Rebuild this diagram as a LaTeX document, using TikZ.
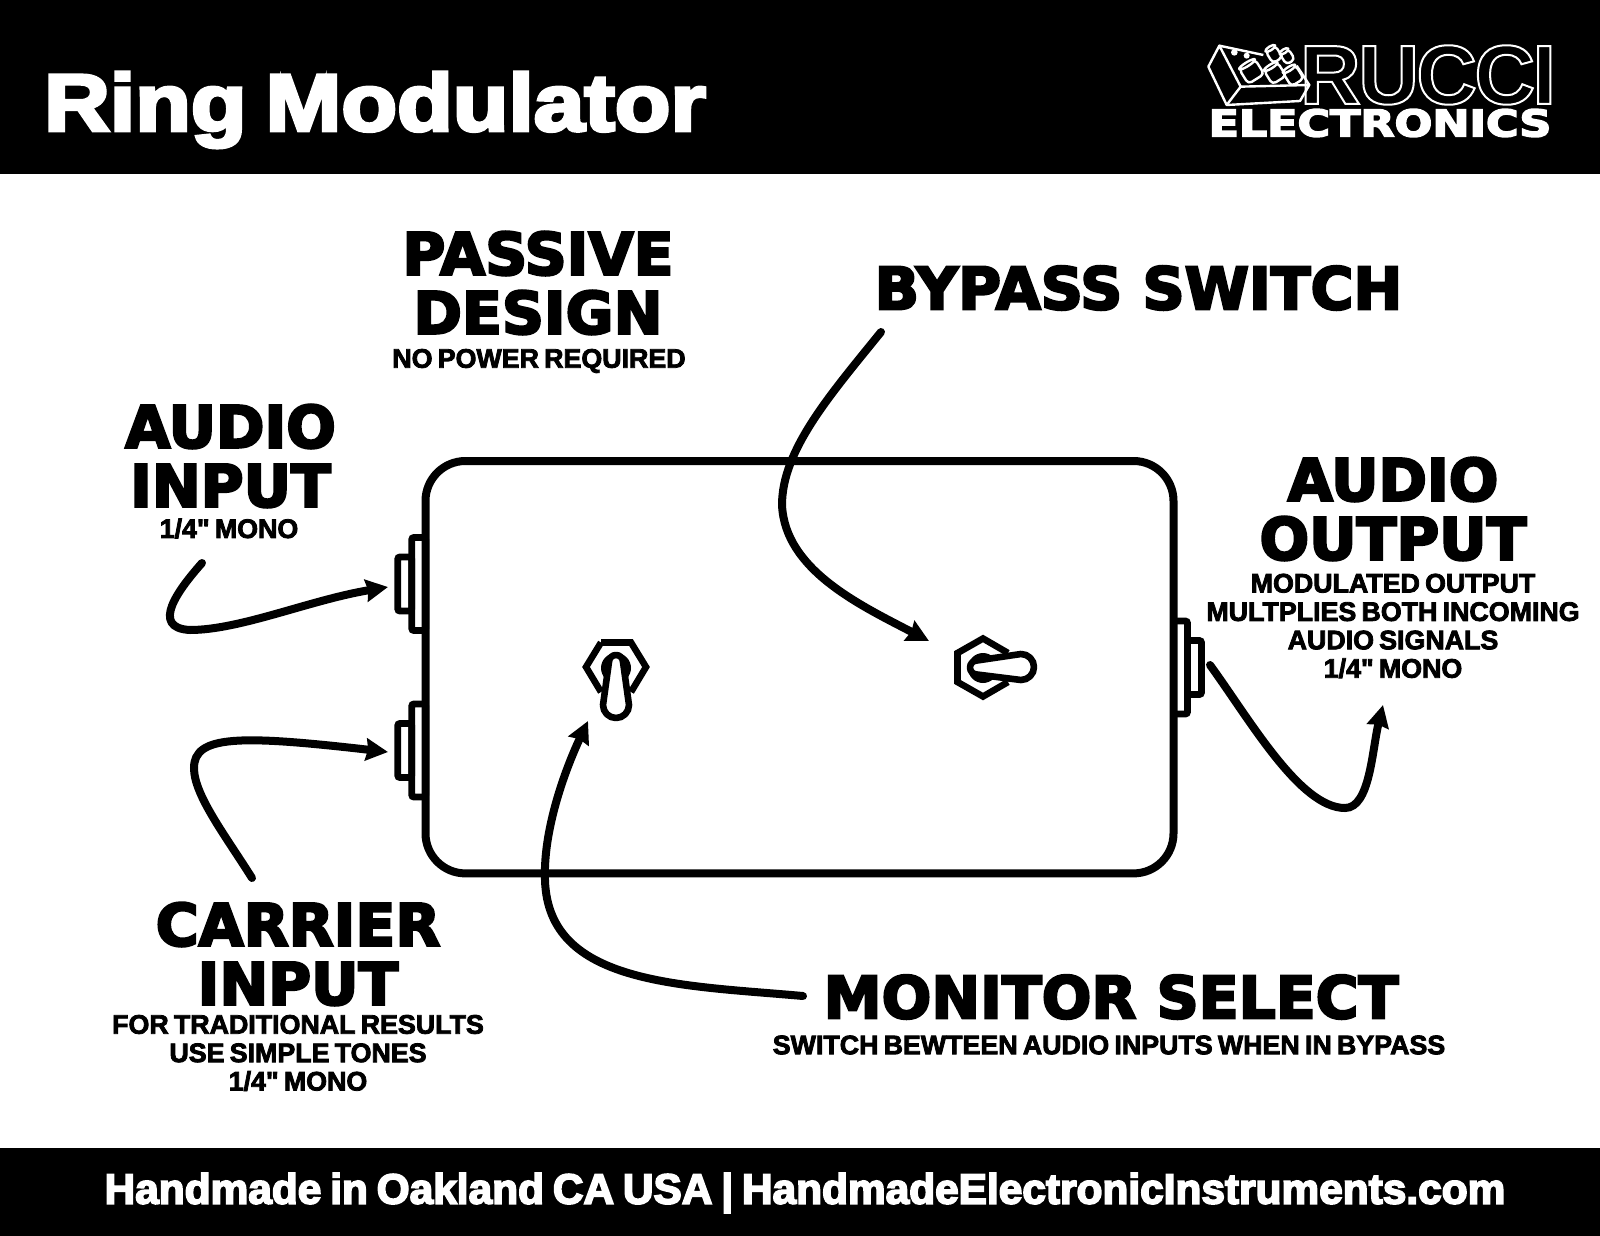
\documentclass[tikz,border=0pt]{standalone}
\usepackage{fontspec}
\usetikzlibrary{arrows.meta}
\newfontfamily\headfont[FakeBold=4,WordSpace=0.3]{DejaVu Sans Bold}
\newfontfamily\logoheadfont[FakeBold=4]{DejaVu Sans Bold}
\newfontfamily\subfont[FakeBold=3,WordSpace=0.7]{Liberation Sans Bold}
\newfontfamily\bannerfont[FakeBold=4,WordSpace=0.75]{Liberation Sans Bold}
\newfontfamily\logofont[LetterSpace=-3]{Liberation Sans Bold}
\newcommand{\outlinetext}[1]{\special{pdf:code q 1 Tr 1 w 1 1 1 RG}#1\special{pdf:code Q}}
\tikzset{
banner/.style={fill=black,draw=none},
heading/.style={align=center,inner sep=0pt,font=\headfont\fontsize{29.2}{29.5}\selectfont},
note/.style={align=center,inner sep=0pt,font=\subfont\fontsize{13.4}{14.2}\selectfont},
enclosure/.style={draw,line width=4pt,rounded corners=20pt,inner sep=0pt,outer sep=0pt,minimum width=374pt,minimum height=206.2pt},
jackflange/.style={draw,line width=3.3pt,rounded corners=1pt,inner sep=0pt,outer sep=0pt,minimum width=7pt,minimum height=46.5pt},
jackbody/.style={draw,line width=3.3pt,rounded corners=1pt,inner sep=0pt,outer sep=0pt,minimum width=7pt,minimum height=27pt},
hexnut/.style={line width=3.3pt,line join=miter},
lever/.style={draw=black,fill=white,line width=3.3pt,line join=round},
callout/.style={line width=4pt,line cap=round,-{Stealth[inset=1pt,length=11pt,width=11pt]}},
logoline/.style={draw=white,line width=1.2pt,line join=round}
}

\begin{document}
\begin{tikzpicture}[x=0.5pt,y=-0.5pt]
  \useasboundingbox (0,0) rectangle (1600,1236);
  \fill[banner] (0,0) rectangle (1600,174);
  \fill[banner] (0,1148) rectangle (1600,1236);
  \node[text=white,inner sep=0pt,font=\bannerfont\fontsize{40.5}{40.5}\selectfont] (title) at (375,110) {\scalebox{1.125}[1]{Ring Modulator}};
  \node[text=white,inner sep=0pt,font=\bannerfont\fontsize{21.2}{21.2}\selectfont] (footer) at (805,1193) {Handmade in Oakland CA USA | HandmadeElectronicInstruments.com};

  % logo
  \node[text=white,inner sep=0pt,font=\logofont\fontsize{42}{42}\selectfont] (rucci) at (1428,75) {\outlinetext{RUCCI}};
  \node[text=white,inner sep=0pt,font=\logoheadfont\fontsize{18.5}{18.5}\selectfont] (electronics) at (1380,123) {\scalebox{1.2}[1]{ELECTRONICS}};
  \begin{scope}[shift={(1200,35)},scale=0.3333]
    \draw[logoline] (58,32) -- (25,95) -- (80,210) -- (300,198) -- (328,150) -- (122,155) -- cycle;
    \draw[logoline] (122,155) -- (80,210);
    \draw[logoline] (58,32) -- (190,60);
    \draw[logoline] (290,92) -- (328,150);
    \fill[white] (103,52) circle (10);
    \fill[white] (140,62) circle (9);
    \foreach \cx/\cy/\halfw/\halfh in {155/110/28/26, 222/58/17/21, 262/65/15/19, 225/115/24/24, 280/122/22/24} {
      \begin{scope}[shift={(\cx,\cy)},rotate=32]
        \draw[logoline,fill=black,rounded corners=2pt] (-\halfw,-\halfh) rectangle (\halfw,\halfh);
        \draw[logoline,fill=black] (0,-\halfh) ellipse ({\halfw} and 6);
      \end{scope}
    }
  \end{scope}

  % pedal
  \node[enclosure] (pedal) at (799.5,667.2) {};
  \node[jackflange,anchor=east] (flangeA) at (425.7,584) {};
  \node[jackbody,anchor=east] (bodyA) at (flangeA.west) {};
  \node[jackflange,anchor=east] (flangeB) at (425.7,750.5) {};
  \node[jackbody,anchor=east] (bodyB) at (flangeB.west) {};
  \node[jackflange,anchor=west] (flangeC) at (1173.5,667.5) {};
  \node[jackbody,anchor=west] (bodyC) at (flangeC.east) {};

  % monitor toggle
  \draw[hexnut] (601,642.5) -- (631,642.5) -- (646,667) -- (631,692);
  \draw[hexnut] (601,642.5) -- (586,667) -- (601,692);
  \fill (616,668) circle (15);
  \draw[lever] (609,662) arc (180:360:7) -- (629,705) arc (0:180:13) -- cycle;

  % bypass toggle
  \draw[hexnut] (1008,653) -- (983,638.5) -- (957.5,653) -- (957.5,682) -- (983,696.5) -- (1008,682);
  \fill (983,668) circle (15);
  \draw[lever] (977,660.5) arc (270:90:7) -- (1021,680) arc (90:-90:13) -- cycle;

  % labels
  \node[heading] (passive) at (538,283) {PASSIVE\\DESIGN};
  \node[note] (nopower) at (539,361) {NO POWER REQUIRED};
  \node[heading] (bypass) at (1138.5,288) {BYPASS SWITCH};
  \node[heading] (audioin) at (230.5,456) {AUDIO\\INPUT};
  \node[note] (audioinnote) at (229,528.5) {1/4" MONO};
  \node[heading] (audioout) at (1393,509) {AUDIO\\OUTPUT};
  \node[note] (audiooutnote) at (1393,626) {MODULATED OUTPUT\\MULTPLIES BOTH INCOMING\\AUDIO SIGNALS\\1/4" MONO};
  \node[heading] (carrier) at (298,954) {CARRIER\\INPUT};
  \node[note] (carriernote) at (298,1053) {FOR TRADITIONAL RESULTS\\USE SIMPLE TONES\\1/4" MONO};
  \node[heading] (monitor) at (1111,997) {MONITOR SELECT};
  \node[note] (monitornote) at (1109,1045) {SWITCH BEWTEEN AUDIO INPUTS WHEN IN BYPASS};

  % callouts
  \coordinate (audioinTail) at (202,563);
  \coordinate (audioinTip) at (388,587);
  \coordinate (carrierTail) at (252,878);
  \coordinate (carrierTip) at (388,752);
  \coordinate (monitorTail) at (803,996);
  \coordinate (monitorTip) at (588,721);
  \coordinate (bypassTail) at (881,332);
  \coordinate (bypassTip) at (929,641);
  \coordinate (audiooutTail) at (1210,665);
  \coordinate (audiooutTip) at (1383,705);
  \draw[callout] (audioinTail) .. controls (178,590) and (150,628) .. (190,630) .. controls (240,630) and (310,600) .. (audioinTip);
  \draw[callout] (carrierTail) .. controls (225,835) and (194,795) .. (194,768) .. controls (194,735) and (240,735) .. (carrierTip);
  \draw[callout] (monitorTail) .. controls (680,985) and (548,985) .. (545,880) .. controls (543,830) and (565,770) .. (monitorTip);
  \draw[callout] (bypassTail) .. controls (830,395) and (782,450) .. (782,505) .. controls (785,570) and (860,605) .. (bypassTip);
  \draw[callout] (audiooutTail) .. controls (1250,720) and (1300,808) .. (1345,808) .. controls (1370,808) and (1372,750) .. (audiooutTip);
\end{tikzpicture}
\end{document}
